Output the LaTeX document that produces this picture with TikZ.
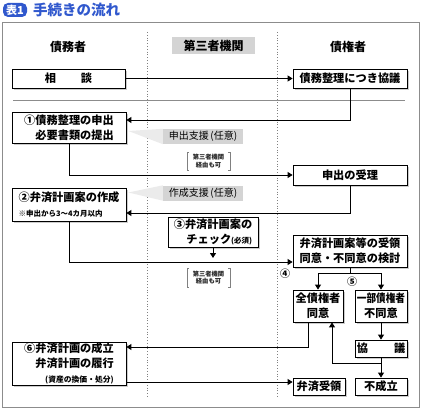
\documentclass[tikz,border=0pt]{standalone}
\usepackage{fontspec}
\usepackage{graphicx}
\setmainfont{Noto Sans CJK JP}
\usetikzlibrary{arrows.meta}
\usetikzlibrary{shadows}

\definecolor{titleblue}{RGB}{48,88,205}

\begin{document}
\begin{tikzpicture}[x=1pt,y=-1pt,
  box/.style={draw,fill=white,line width=0.8pt,inner sep=0pt,align=center,font=\bfseries\fontsize{11.2}{15}\selectfont,drop shadow={shadow xshift=1.6pt,shadow yshift=-1.6pt,fill=black!40}},
  callout/.style={fill=black!17,inner sep=0pt,minimum width=80pt,minimum height=15pt,font=\fontsize{10}{11}\selectfont},
  wedge/.style={fill=black!8},
  via/.style={inner sep=0pt,minimum width=43pt,minimum height=18pt,align=center,text=black!85,font=\bfseries\fontsize{6.3}{7.5}\selectfont},
  head/.style={inner sep=0pt,font=\bfseries\fontsize{12}{14}\selectfont},
  num/.style={inner sep=0pt,font=\bfseries\fontsize{10}{12}\selectfont},
  flow/.style={line width=1pt,-{Triangle[length=5pt,width=6pt]}},
  plain/.style={line width=1pt}]
  \useasboundingbox (0,0) rectangle (422,409);
  %title
  \node[fill=titleblue,text=white,rounded corners=5pt,inner sep=0pt,minimum width=24pt,minimum height=14pt,font=\bfseries\fontsize{11}{12}\selectfont] (badge) at (15,10) {表1};
  \node[anchor=west,inner sep=0pt,text=titleblue,font=\bfseries\fontsize{14.5}{16}\selectfont] (title) at (33,10) {手続きの流れ};
  %frame and lanes
  \draw[black!45,line width=1pt] (2,23) rectangle (419,407);
  \draw[black!50,dotted,line width=0.8pt] (147,32) -- (147,397);
  \draw[black!50,dotted,line width=0.8pt] (277,32) -- (277,397);
  \draw[black!45,line width=0.8pt] (13,100) -- (405,100);
  \node[head] (debtor) at (68,47) {債務者};
  \node[head,fill=black!17,minimum width=83pt,minimum height=17pt] (third) at (213.5,45.5) {第三者機関};
  \node[head] (creditor) at (348,47) {債権者};

  %left
  \node[box,minimum width=113pt,minimum height=19pt] (soudan) at (68.5,78.5) {相\hspace{25pt}談};
  \node[box,minimum width=114pt,minimum height=31pt,align=right] (moushide) at (69,127.5) {①債務整理の申出\\必要書類の提出};
  \node[box,minimum width=114pt,minimum height=33pt,align=left] (sakusei) at (69,204.5) {②弁済計画案の作成\\{\fontsize{7.5}{9}\selectfont ※申出から3～4カ月以内}};
  \node[box,minimum width=114pt,minimum height=43pt,align=right] (seiritsu) at (69,363.5) {⑥弁済計画の成立\\弁済計画の履行\\{\fontsize{7.8}{10}\selectfont (資産の換価・処分)}\hspace{9pt}};

  %middle
  \node[callout] (shien1) at (203,136.5) {申出支援\,(任意)};
  \fill[wedge] ([xshift=2pt,yshift=-3.5pt]moushide.east) -- (shien1.north west) -- (shien1.south west) -- cycle;
  \node[callout] (shien2) at (203,193) {作成支援\,(任意)};
  \fill[wedge] ([xshift=2pt,yshift=12pt]sakusei.east) -- (shien2.north west) -- (shien2.south west) -- cycle;
  \node[box,minimum width=90pt,minimum height=30pt,align=right] (check) at (213,232) {③弁済計画案の\\チェック{\fontsize{7.5}{9}\selectfont (必須)}};
  \coordinate (checkend) at (213,258);
  \node[via] (via1) at (208.5,161) {第三者機関\\経由も可};
  \node[via] (via2) at (208.5,277.5) {第三者機関\\経由も可};
  \foreach \v in {via1,via2}{
    \draw[black!50,line width=0.4pt] ([xshift=2pt]\v.north west) -- (\v.north west) -- (\v.south west) -- ([xshift=2pt]\v.south west);
    \draw[black!50,line width=0.4pt] ([xshift=-2pt]\v.north east) -- (\v.north east) -- (\v.south east) -- ([xshift=-2pt]\v.south east);
  }

  %right
  \node[box,minimum width=114pt,minimum height=19pt] (kyogi) at (350,78.5) {債務整理につき協議};
  \node[box,minimum width=114pt,minimum height=20pt] (uketori) at (350,175) {申出の受理};
  \node[box,minimum width=114pt,minimum height=32pt] (juryo) at (350,251) {弁済計画案等の受領\\同意・不同意の検討};
  \node[num] (four) at (285,274) {④};
  \coordinate (split) at (350,273);
  \node[num] (five) at (352,282) {⑤};
  \node[box,minimum width=50pt,minimum height=32pt] (zendoui) at (318,306) {全債権者\\同意};
  \node[box,minimum width=52pt,minimum height=32pt] (ichibu) at (381,306) {\scalebox{0.86}[1]{一部債権者}\\不同意};
  \node[box,minimum width=52pt,minimum height=17pt] (kyogi2) at (381,348.5) {協\hspace{26pt}議};
  \coordinate (back) at (381,363);
  \node[box,minimum width=52pt,minimum height=17pt] (fuseiritsu) at (381,386.5) {不成立};
  \node[box,minimum width=52pt,minimum height=17pt] (bensai) at (319,386.5) {弁済受領};

  %arrows
  \draw[flow] (soudan) -- (kyogi);
  \draw[flow] (kyogi.south) |- ([yshift=7.5pt]moushide.east);
  \draw[flow] (moushide.south) |- (uketori.west);
  \draw[flow] (uketori.south) |- ([yshift=-8.5pt]sakusei.east);
  \draw[flow] (sakusei.south) |- ([yshift=-11pt]juryo.west);
  \draw[flow] (check) -- (checkend);
  \draw[plain] (juryo) -- (split);
  \draw[flow] (split) -| (zendoui);
  \draw[flow] (split) -| (ichibu);
  \draw[flow] (ichibu) -- (kyogi2);
  \draw[flow] (kyogi2) -- (fuseiritsu);
  \draw[flow] (back) -| ([xshift=14pt]zendoui.south);
  \draw[flow] ([xshift=-10pt]zendoui.south) |- ([yshift=16.5pt]seiritsu.east);
  \draw[flow] ([yshift=-18.5pt]seiritsu.east) -- ([yshift=4.5pt]bensai.west);
\end{tikzpicture}
\end{document}
